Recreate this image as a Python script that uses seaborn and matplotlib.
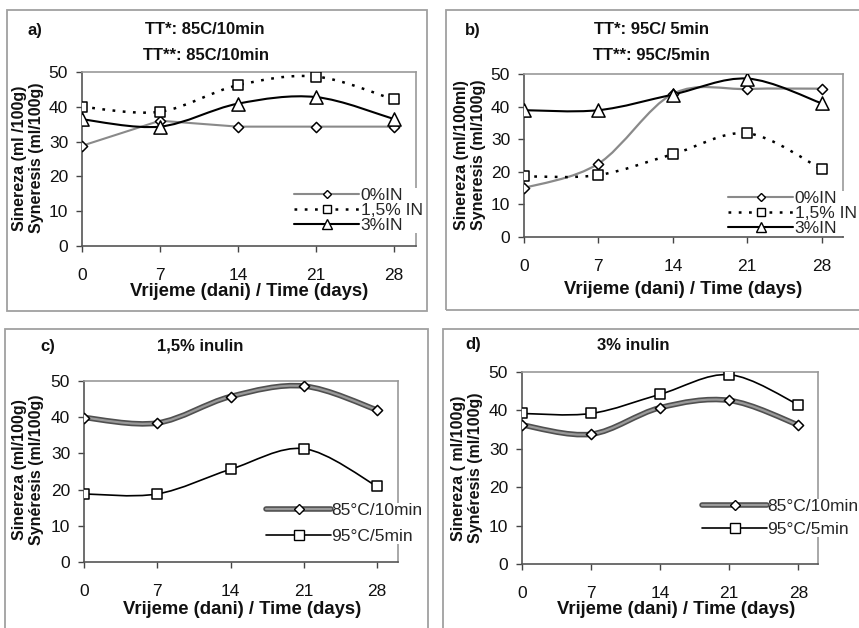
import numpy as np
import pandas as pd
import matplotlib
matplotlib.use("Agg")
import matplotlib.pyplot as plt
from matplotlib.path import Path
from matplotlib.patches import PathPatch, Rectangle
from matplotlib.lines import Line2D
import matplotlib.patheffects as pe
import seaborn as sns

# ---------------- data ----------------
days = [0, 7, 14, 21, 28]

# panel a: TT 85C/10min
a_in0 = [28.8, 36.0, 34.3, 34.3, 34.3]
a_in15 = [40.0, 38.6, 46.2, 48.7, 42.1]
a_in3 = [36.4, 34.3, 40.9, 42.8, 36.5]

# panel b: TT 95C/5min
b_in0 = [15.0, 22.5, 43.9, 45.4, 45.5]
b_in15 = [18.6, 19.0, 25.4, 31.8, 20.8]
b_in3 = [38.9, 38.9, 43.7, 48.6, 41.0]

# panel c: 1,5% inulin
c_85 = [39.9, 38.4, 45.7, 48.6, 42.0]
c_95 = [18.8, 18.8, 25.6, 31.3, 20.9]

# panel d: 3% inulin
d_85 = [36.2, 33.8, 40.7, 42.6, 36.2]
d_95 = [39.2, 39.2, 44.2, 49.3, 41.5]

legend_ab = ["0%IN", "1,5% IN", "3%IN"]
legend_cd = ["85°C/10min", "95°C/5min"]
yticks = [0, 10, 20, 30, 40, 50]

# ---------------- style ----------------
sns.set_theme(style="white")
plt.rcParams["font.family"] = ["Liberation Sans", "DejaVu Sans"]

W, H = 859, 628
fig = plt.figure(figsize=(W / 100, H / 100), dpi=100)
fig.patch.set_facecolor("white")


def fx(x):
    return x / W


def fy(y):
    return 1 - y / H


def add_axes(l, t, r, b):
    return fig.add_axes([fx(l), fy(b), (r - l) / W, (b - t) / H])


# panel frames
for (l, t, r, b) in [(7, 10, 427, 311), (446, 10, 880, 310),
                     (5, 329, 428, 660), (443, 329, 880, 660)]:
    fig.add_artist(Rectangle((fx(l), fy(b)), (r - l) / W, (b - t) / H,
                             transform=fig.transFigure, fill=False,
                             edgecolor="#a0a0a0", linewidth=1.3))

THICK = [pe.Stroke(linewidth=4.0, foreground="#505050"), pe.Normal()]
DOTS = (0, (1.1, 3.0))


def smooth_path(xs, ys):
    pts = np.column_stack([xs, ys]).astype(float)
    n = len(pts)
    verts = [pts[0]]
    codes = [Path.MOVETO]
    for i in range(n - 1):
        p0 = pts[max(i - 1, 0)]
        p1 = pts[i]
        p2 = pts[i + 1]
        p3 = pts[min(i + 2, n - 1)]
        c1 = p1 + (p2 - p0) / 6.0
        c2 = p2 - (p3 - p1) / 6.0
        verts += [c1, c2, p2]
        codes += [Path.CURVE4] * 3
    return Path(verts, codes)


def draw_series(ax, ys, color, lw, ls="-", smooth=True, marker="D", ms=5.2,
                effects=None):
    if smooth:
        path = smooth_path(days, ys)
        patch = PathPatch(path, fill=False, edgecolor=color,
                          linewidth=lw, linestyle=ls, zorder=2)
        if effects is not None:
            patch.set_path_effects(effects)
        ax.add_patch(patch)
    else:
        df = pd.DataFrame({"day": days, "v": ys})
        sns.lineplot(data=df, x="day", y="v", ax=ax, color=color,
                     linewidth=lw, linestyle=ls, zorder=2)
    df = pd.DataFrame({"day": days, "v": ys})
    sns.scatterplot(data=df, x="day", y="v", ax=ax, marker=marker,
                    s=ms ** 2, facecolor="white", edgecolor="black",
                    linewidth=1.1, zorder=3)


def style_axes(ax):
    ax.set_xlim(0, 30)
    ax.set_ylim(0, 50)
    ax.set_xticks(days)
    ax.set_yticks(yticks)
    ax.set_xlabel("")
    ax.set_ylabel("")
    ax.tick_params(axis="both", direction="out", length=4, width=1,
                   color="#444", labelsize=12.5, labelcolor="#111")
    ax.tick_params(axis="x", pad=12)
    ax.tick_params(axis="y", pad=6)
    ax.tick_params(left=True, bottom=True)
    for s in ["left", "bottom"]:
        ax.spines[s].set_color("#555")
        ax.spines[s].set_linewidth(1.2)
    for s in ["top", "right"]:
        ax.spines[s].set_color("#999")
        ax.spines[s].set_linewidth(1.2)
    ax.set_facecolor("white")


lab_kw = dict(fontsize=13.3, fontweight="bold", ha="center", va="center",
              color="#111")
title_kw = dict(fontsize=12, fontweight="bold", ha="center", va="center",
                color="#111")
ylab_kw = dict(fontsize=11.5, fontweight="bold", ha="center", va="center",
               rotation=90, multialignment="center", linespacing=1.2,
               color="#111")
tag_kw = dict(fontsize=12, fontweight="bold", ha="left", va="center",
              color="#111")
leg_kw = dict(frameon=True, facecolor="white", edgecolor="none",
              framealpha=1, fontsize=12.5, handlelength=3.75,
              borderpad=0.0, borderaxespad=0, loc="upper left",
              bbox_transform=fig.transFigure)

# ---------------- panel a ----------------
axa = add_axes(82, 72, 416, 246)
draw_series(axa, a_in0, "#8a8a8a", 1.5, smooth=False, marker="D")
draw_series(axa, a_in15, "black", 1.8, ls=DOTS, marker="s", ms=7.8)
draw_series(axa, a_in3, "black", 1.5, marker="^", ms=9.5)
style_axes(axa)
ha = [Line2D([], [], color="#8a8a8a", lw=1.5, marker="D", ms=5.2,
             mfc="white", mec="black"),
      Line2D([], [], color="black", lw=1.8, ls=DOTS, marker="s",
             ms=7.8, mfc="white", mec="black"),
      Line2D([], [], color="black", lw=1.5, marker="^", ms=9.5,
             mfc="white", mec="black")]
axa.legend(ha, legend_ab, bbox_to_anchor=(fx(294), fy(188)),
           handletextpad=0.1, labelspacing=0.0, markerscale=0.8, **leg_kw)
fig.text(fx(27), fy(30), "a)", **tag_kw)
fig.text(fx(205), fy(30), "TT*: 85C/10min", **title_kw)
fig.text(fx(206), fy(55), "TT**: 85C/10min", **title_kw)
fig.text(fx(249), fy(292), "Vrijeme (dani) / Time (days)", **lab_kw)
fig.text(fx(28), fy(158), "Sinereza (ml /100g)\nSyneresis (ml/100g)",
         **ylab_kw)

# ---------------- panel b ----------------
axb = add_axes(524, 74, 843, 237)
draw_series(axb, b_in0, "#8a8a8a", 1.6, marker="D")
draw_series(axb, b_in15, "black", 1.8, ls=DOTS, marker="s", ms=7.8)
draw_series(axb, b_in3, "black", 1.5, marker="^", ms=9.5)
style_axes(axb)
axb.legend(ha, legend_ab, bbox_to_anchor=(fx(728), fy(191)),
           handletextpad=0.1, labelspacing=0.0, markerscale=0.75, **leg_kw)
fig.text(fx(465), fy(30), "b)", **tag_kw)
fig.text(fx(651), fy(30), "TT*: 95C/ 5min", **title_kw)
fig.text(fx(651), fy(55), "TT**: 95C/5min", **title_kw)
fig.text(fx(683), fy(290), "Vrijeme (dani) / Time (days)", **lab_kw)
fig.text(fx(470), fy(155), "Sinereza (ml/100ml)\nSyneresis (ml/100g)",
         **ylab_kw)

# ---------------- panel c ----------------
h85 = (Line2D([], [], color="#505050", lw=4.0),
       Line2D([], [], color="#9a9a9a", lw=1.6, marker="D", ms=5.2,
              mfc="white", mec="black"))
h95 = Line2D([], [], color="black", lw=1.2, marker="s", ms=7.8,
             mfc="white", mec="black")
hcd = [h85, h95]
axc = add_axes(84, 381, 398, 562)
draw_series(axc, c_85, "#9a9a9a", 1.6, marker="D", effects=THICK)
draw_series(axc, c_95, "black", 1.2, marker="s", ms=7.8)
style_axes(axc)
axc.legend(hcd, legend_cd, bbox_to_anchor=(fx(266), fy(503)),
           handletextpad=0.02, labelspacing=0.6, **leg_kw)
fig.text(fx(40), fy(346), "c)", **tag_kw)
fig.text(fx(200), fy(346), "1,5% inulin", **title_kw)
fig.text(fx(242), fy(610), "Vrijeme (dani) / Time (days)", **lab_kw)
fig.text(fx(28), fy(470), "Sinereza (ml/100g)\nSynéresis (ml/100g)",
         **ylab_kw)

# ---------------- panel d ----------------
axd = add_axes(522, 372, 818, 564)
draw_series(axd, d_85, "#9a9a9a", 1.6, marker="D", effects=THICK)
draw_series(axd, d_95, "black", 1.2, marker="s", ms=7.8)
style_axes(axd)
axd.legend(hcd, legend_cd, bbox_to_anchor=(fx(702), fy(499)),
           handletextpad=0.02, labelspacing=0.43, **leg_kw)
fig.text(fx(465), fy(345), "d)", **tag_kw)
fig.text(fx(633), fy(346), "3% inulin", **title_kw)
fig.text(fx(676), fy(610), "Vrijeme (dani) / Time (days)", **lab_kw)
fig.text(fx(467), fy(468), "Sinereza ( ml/100g)\nSynéresis (ml/100g)",
         **ylab_kw)

fig.savefig("out.png", dpi=100, facecolor="white")
